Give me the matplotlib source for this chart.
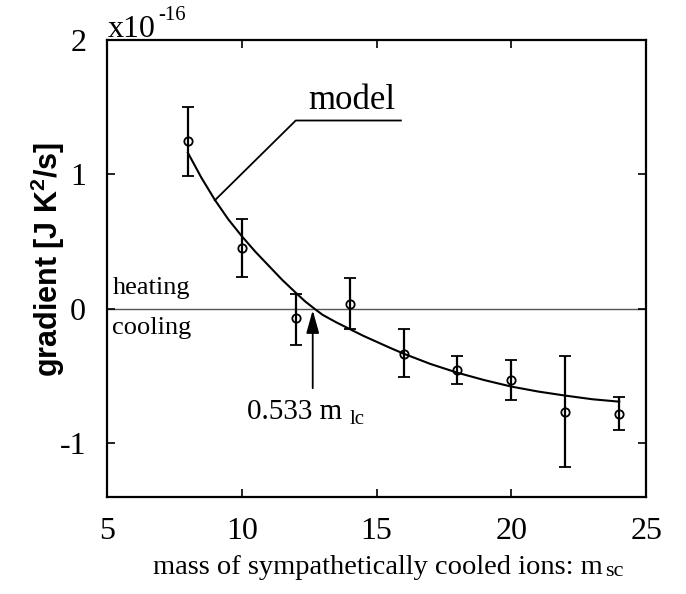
import matplotlib
matplotlib.use('Agg')
import matplotlib.pyplot as plt

plt.rcParams['axes.unicode_minus'] = False

# measured points (units of 1e-16 J K^2/s)
mass = [8, 10, 12, 14, 16, 18, 20, 22, 24]
grad = [1.244, 0.452, -0.07, 0.037, -0.336, -0.457, -0.531, -0.766, -0.781]
err_hi = [1.504, 0.667, 0.11, 0.23, -0.15, -0.348, -0.378, -0.353, -0.657]
err_lo = [0.99, 0.237, -0.27, -0.15, -0.51, -0.56, -0.68, -1.173, -0.899]

# model curve
model_x = [8, 8.5, 9, 9.5, 10, 10.5, 11, 11.5, 12, 12.35, 12.7, 13, 13.5, 14, 14.5, 15, 15.5,
           16, 17, 18, 19, 20, 21, 22, 23, 24]
model_y = [1.16, 0.975, 0.81, 0.665, 0.54, 0.425, 0.32, 0.215, 0.12, 0.055, 0.0, -0.045, -0.1,
           -0.15, -0.2, -0.245, -0.29, -0.333, -0.41, -0.475, -0.53, -0.578, -0.615, -0.645,
           -0.672, -0.69]

xticks = [5, 10, 15, 20, 25]
yticks = [-1, 0, 1, 2]

serif = 'Liberation Serif'

fig = plt.figure(figsize=(6.86, 5.94), dpi=100)
ax = fig.add_axes([0.156, 0.163, 0.786, 0.770])

yerr = [[g - l for g, l in zip(grad, err_lo)], [h - g for g, h in zip(grad, err_hi)]]
ax.axhline(0, color='#555555', lw=1.0, zorder=1)
ax.errorbar(mass, grad, yerr=yerr, fmt='o', mfc='none', mec='black', ms=6, mew=1.3,
            ecolor='black', elinewidth=1.6, capsize=4, capthick=1.6, color='black')
ax.plot(model_x, model_y, color='black', lw=1.5)

ax.set_xlim(5, 25)
ax.set_ylim(-1.4, 2)
ax.set_xticks(xticks)
ax.set_yticks(yticks)
ax.tick_params(direction='in', length=6, width=1.2, top=True, right=True)
ax.tick_params(axis='x', pad=14)
ax.tick_params(axis='y', pad=15)
for lab in ax.get_xticklabels() + ax.get_yticklabels():
    lab.set_fontfamily(serif)
    lab.set_fontsize(23)
for s in ax.spines.values():
    s.set_linewidth(1.6)

# scale label
fig.text(108 / 686, 1 - 37 / 594, 'x10', family=serif, fontsize=23, ha='left', va='baseline')
fig.text(158 / 686, 1 - 20 / 594, '-16', family=serif, fontsize=15, ha='left', va='baseline')

ax.set_ylabel(r'gradient [J K$^{\mathregular{2}}$/s]', family='Liberation Sans',
              fontweight='bold', fontsize=22)
ax.yaxis.set_label_coords(-0.075, 0.52)

# x label with small "sc"
fig.text(153 / 686, 1 - 568 / 594, 'mass of sympathetically cooled ions: m', family=serif,
         fontsize=20.5, ha='left', va='center')
fig.text(605 / 686, 1 - 572 / 594, 'sc', family=serif, fontsize=16, ha='left', va='center')

# model leader
ax.plot([9.0, 12.0, 15.9], [0.807, 1.40, 1.40], color='black', lw=1.3)
ax.text(14.07, 1.55, 'model', family=serif, fontsize=25, ha='center', va='center')

ax.text(5.2, 0.07, 'heating', family=serif, fontsize=19, ha='left', va='bottom')
ax.text(5.2, -0.06, 'cooling', family=serif, fontsize=19, ha='left', va='top')

# crossing arrow
ax.annotate('', xy=(12.63, -0.01), xytext=(12.63, -0.59),
            arrowprops=dict(arrowstyle='-|>,head_length=1.0,head_width=0.28', mutation_scale=14,
                            color='black', lw=1.3, shrinkA=0, shrinkB=0))
ax.text(10.2, -0.77, '0.533 m', family=serif, fontsize=21, ha='left', va='center')
ax.text(14.0, -0.82, 'lc', family=serif, fontsize=15, ha='left', va='center')

plt.savefig('out.png', dpi=100)
